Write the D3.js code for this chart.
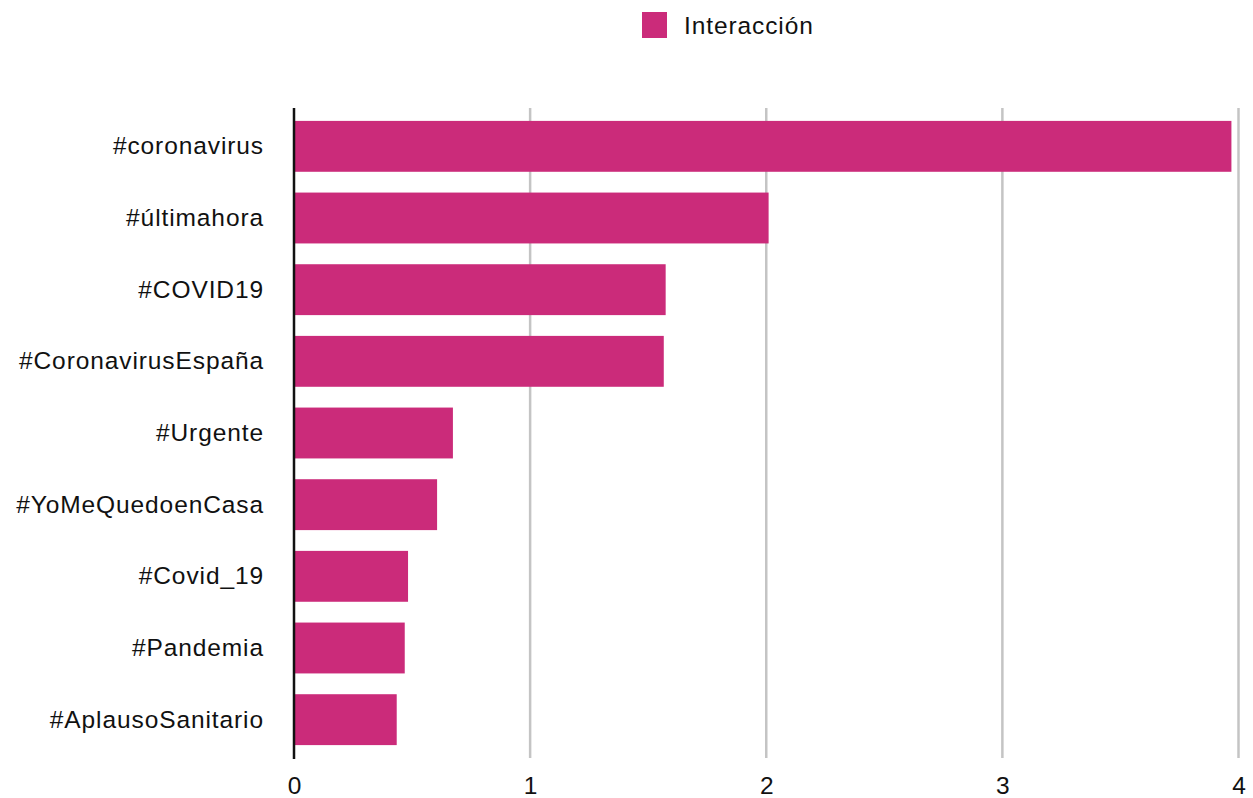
<!DOCTYPE html>
<html>
<head>
<meta charset="utf-8">
<script src="https://cdn.jsdelivr.net/npm/d3@7"></script>
<style>
  body { margin: 0; background: #fff; }
  svg { display: block; font-family: "Liberation Sans", Arial, Helvetica, sans-serif; }
</style>
</head>
<body>
<svg class="vis" width="1253" height="798"></svg>
<script>
// hashtags, top to bottom
const hashtags = [
    "#coronavirus", "#últimahora", "#COVID19", "#CoronavirusEspaña", "#Urgente",
    "#YoMeQuedoenCasa", "#Covid_19", "#Pandemia", "#AplausoSanitario"
];

const interaccion = [3.97, 2.01, 1.574, 1.566, 0.673, 0.606, 0.483, 0.469, 0.435];

const xTicks = [0, 1, 2, 3, 4];

const seriesName = "Interacción";

const barColor = "#cb2b7a";

const m = { top: 108, right: 14, bottom: 40, left: 294 };
const W = 1253, H = 798;
const fontSize = 24.5, spacing = "0.9px";

const svg = d3.select("svg.vis");

const x = d3.scaleLinear()
    .domain([0, 4])
    .range([m.left, 1238.5]);

const y = d3.scaleBand()
    .domain(hashtags)
    .range([m.top, 758])
    .paddingInner(0.29)
    .paddingOuter(0.18);

// grid lines
svg.append("g")
    .selectAll("line")
    .data(xTicks.filter(d => d > 0))
    .join("line")
    .attr("x1", d => x(d))
    .attr("x2", d => x(d))
    .attr("y1", m.top)
    .attr("y2", 758)
    .attr("stroke", "#c4c4c4")
    .attr("stroke-width", 2.5);

// bars
svg.append("g")
    .selectAll("rect")
    .data(interaccion)
    .join("rect")
    .attr("x", x(0))
    .attr("y", (d, i) => y(hashtags[i]))
    .attr("width", d => x(d) - x(0))
    .attr("height", y.bandwidth())
    .attr("fill", barColor);

// baseline
svg.append("line")
    .attr("x1", x(0)).attr("x2", x(0))
    .attr("y1", m.top).attr("y2", 759)
    .attr("stroke", "#111")
    .attr("stroke-width", 2.5);

// y labels
const yAxis = svg.append("g")
    .attr("transform", `translate(${x(0) - 30},0)`)
    .call(d3.axisLeft(y).tickSize(0).tickPadding(0));
yAxis.select(".domain").remove();
yAxis.selectAll("text")
    .attr("font-size", fontSize)
    .attr("letter-spacing", spacing)
    .attr("fill", "#111")
    .attr("font-family", "Liberation Sans, Arial, sans-serif");

// x labels
const xAxis = svg.append("g")
    .attr("transform", `translate(0,${777})`)
    .call(d3.axisBottom(x).tickValues(xTicks).tickFormat(d3.format("d")).tickSize(0).tickPadding(0));
xAxis.select(".domain").remove();
xAxis.selectAll("text")
    .attr("font-size", fontSize)
    .attr("fill", "#111")
    .attr("font-family", "Liberation Sans, Arial, sans-serif");

// legend
const lg = svg.append("g").attr("transform", "translate(642,12)");
lg.append("rect")
    .attr("width", 25).attr("height", 26)
    .attr("fill", barColor);
lg.append("text")
    .attr("x", 42).attr("y", 22)
    .attr("font-size", fontSize)
    .attr("letter-spacing", spacing)
    .attr("fill", "#111")
    .text(seriesName);
</script>
</body>
</html>
